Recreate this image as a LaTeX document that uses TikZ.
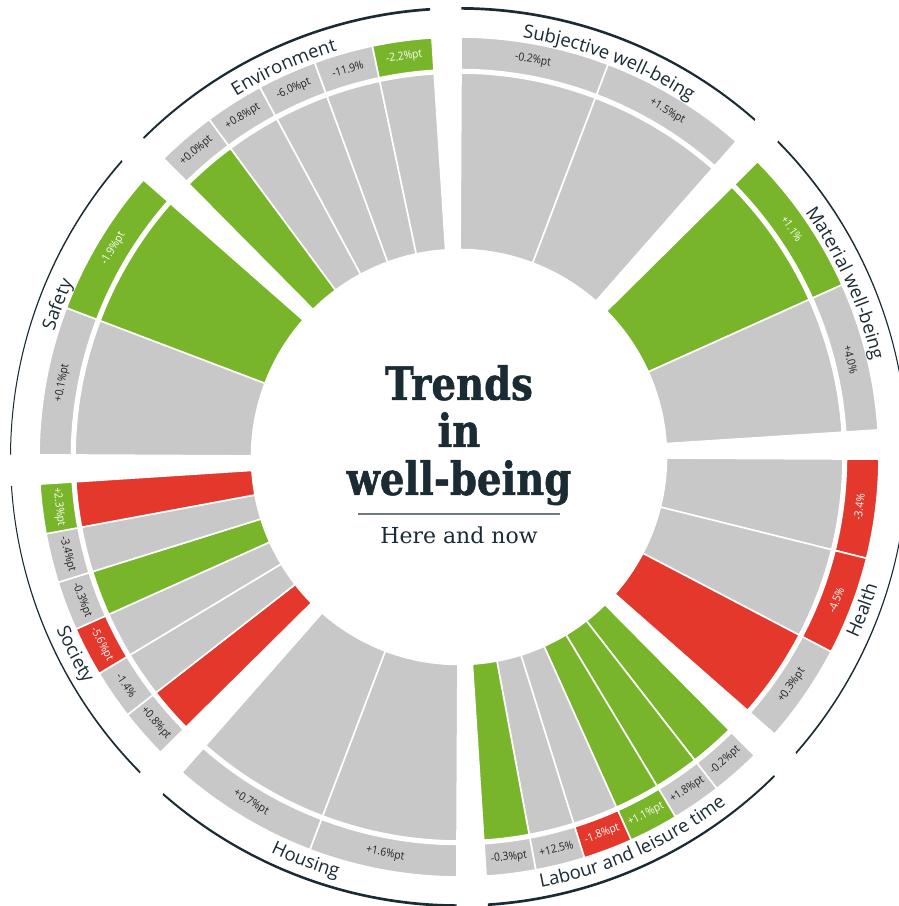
\documentclass[tikz,border=0pt]{standalone}
\usepackage{fontspec}
\usetikzlibrary{decorations.text}
\newfontfamily\titlefont[FakeStretch=0.84, BoldFeatures={FakeBold=1}]{DejaVu Serif}
\newfontfamily\subfont{DejaVu Serif}
\newfontfamily\labfont{Open Sans}
\newfontfamily\tilefont[FakeStretch=0.92]{Open Sans}
\definecolor{gr}{HTML}{C8C8C8}
\definecolor{gn}{HTML}{78B52A}
\definecolor{rd}{HTML}{E4382D}
\definecolor{ink}{HTML}{1A2B33}
\definecolor{tx}{HTML}{222222}
\definecolor{rule}{HTML}{6F7A80}
\tikzset{
  tilelab/.style={font=\tilefont\fontsize{11.2}{12}\selectfont, inner sep=0pt},
  wedgefill/.style={draw=white, line width=1.6pt},
  bigtitle/.style={font=\titlefont\bfseries\fontsize{46}{48}\selectfont, text=ink, anchor=base, inner sep=0pt},
}
\newcommand\wsection[5]{%
  \pgfmathsetmacro\ww{41/#3}
  \foreach[count=\k] \bc/\tc/\fc/\lab in {#5}{
    \pgfmathsetmacro\aa{#2-(\k-1)*\ww}
    \pgfmathsetmacro\ab{#2-\k*\ww}
    \pgfmathsetmacro\am{#2-(\k-0.5)*\ww}
    \pgfmathsetmacro\rot{\am+#4}
    \fill[\bc, wedgefill] (\aa:207.5) arc[start angle=\aa, end angle=\ab, radius=207.5] -- (\ab:384) arc[start angle=\ab, end angle=\aa, radius=384] -- cycle;
    \fill[\tc, wedgefill] (\aa:387.5) arc[start angle=\aa, end angle=\ab, radius=387.5] -- (\ab:420) arc[start angle=\ab, end angle=\aa, radius=420] -- cycle;
    \node[tilelab, text=\fc, rotate=\rot] (#1-\k) at (\am:403.5) {\lab};
  }
  \pgfmathsetmacro\se{#2-41}
  \fill[ink] (#2:449 and 450) arc[start angle=#2, end angle=\se, x radius=449, y radius=450] -- (\se:448 and 447.3) arc[start angle=\se, end angle=#2, x radius=448, y radius=447.3] -- cycle;
}
\newcommand\toplabel[2]{%
  \pgfmathsetmacro\se{#1-41}
  \path[decorate, decoration={text along path, text align=center, text={|\labfont\fontsize{18.5}{20}\selectfont\color{ink}|#2}}] (#1:424) arc[start angle=#1, end angle=\se, radius=424];
}
\newcommand\botlabel[3][0]{%
  \pgfmathsetmacro\sa{#2-41+#1}
  \pgfmathsetmacro\sb{#2+#1}
  \path[decorate, decoration={text along path, text align=center, text={|\labfont\fontsize{18.5}{20}\selectfont\color{ink}|#3}}] (\sa:438) arc[start angle=\sa, end angle=\sb, radius=438];
}
\begin{document}
\begin{tikzpicture}[x=1pt, y=1pt]
\useasboundingbox (0,0) rectangle (899,906);
\fill[white] (0,0) rectangle (899,906);
\begin{scope}[shift={(459,449)}]
\wsection{env}{134.7}{5}{-90}{gn/gr/tx/{+0.0\%pt}, gr/gr/tx/{+0.8\%pt}, gr/gr/tx/{-6.0\%pt}, gr/gr/tx/{-11.9\%}, gr/gn/white/{-2.2\%pt}}
\wsection{subj}{89.7}{2}{-90}{gr/gr/tx/{-0.2\%pt}, gr/gr/tx/{+1.5\%pt}}
\wsection{mat}{44.7}{2}{-90}{gn/gn/white/{+1.1\%}, gr/gr/tx/{+4.0\%}}
\wsection{hea}{-0.3}{3}{90}{gr/rd/white/{-3.4\%}, gr/rd/white/{-4.5\%}, rd/gr/tx/{+0.3\%pt}}
\wsection{lab}{-45.3}{6}{90}{gn/gr/tx/{-0.2\%pt}, gn/gr/tx/{+1.8\%pt}, gn/gn/white/{+1.1\%pt}, gr/rd/white/{-1.8\%pt}, gr/gr/tx/{+12.5\%}, gn/gr/tx/{-0.3\%pt}}
\wsection{hou}{-90.3}{2}{90}{gr/gr/tx/{+1.6\%pt}, gr/gr/tx/{+0.7\%pt}}
\wsection{soc}{-135.3}{6}{90}{rd/gr/tx/{+0.8\%pt}, gr/gr/tx/{-1.4\%}, gr/rd/white/{-5.6\%pt}, gn/gr/tx/{-0.3\%pt}, gr/gr/tx/{-3.4\%pt}, rd/gn/white/{+2.3\%pt}}
\wsection{saf}{179.7}{2}{-90}{gr/gr/tx/{+0.1\%pt}, gn/gn/white/{-1.9\%pt}}
\toplabel{134.7}{Environment}
\toplabel{89.7}{Subjective well-being}
\toplabel{44.7}{Material well-being}
\toplabel{179.7}{Safety}
\botlabel{-0.3}{Health}
\botlabel{-45.3}{Labour and leisure time}
\botlabel{-90.3}{Housing}
\botlabel[3]{-135.3}{Society}
\end{scope}
\node[bigtitle] (t1) at (459,506) {Trends};
\node[bigtitle] (t2) at (459,459) {in};
\node[bigtitle] (t3) at (459,411) {well-being};
\coordinate (r1) at (358,392);
\coordinate (r2) at (560,392);
\draw[rule, line width=1.3pt] (r1) -- (r2);
\node[font=\subfont\fontsize{22}{24}\selectfont, text=ink, anchor=base, inner sep=0pt] (sub) at (459,362) {Here and now};
\end{tikzpicture}
\end{document}
